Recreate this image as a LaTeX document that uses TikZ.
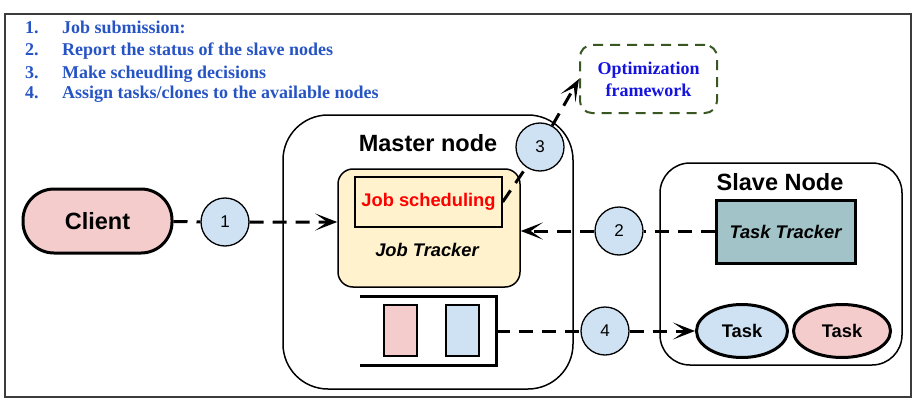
\documentclass[tikz,border=0pt]{standalone}
\usepackage{fontspec}
\setmainfont{Liberation Sans}
\newfontfamily\listfont{Liberation Serif}
\usepackage{tikz}
\usetikzlibrary{arrows.meta}
\usetikzlibrary{shapes.geometric}
\definecolor{list-blue}{RGB}{38, 84, 196}
\definecolor{opt-blue}{RGB}{20, 20, 222}
\definecolor{opt-green}{RGB}{56, 87, 35}
\definecolor{client-pink}{RGB}{244, 204, 204}
\definecolor{label-blue}{RGB}{207, 226, 243}
\definecolor{tracker-yellow}{RGB}{255, 242, 204}
\definecolor{tracker-teal}{RGB}{162, 196, 201}
\definecolor{frame-gray}{RGB}{60, 60, 60}

\tikzset{
  bigtitle/.style={font=\fontsize{23.5}{28}\selectfont\bfseries},
  midtext/.style={font=\fontsize{18.3}{22}\selectfont\bfseries},
  listtext/.style={anchor=base west, text=list-blue, font=\fontsize{18}{21}\selectfont\listfont\bfseries, inner sep=0pt},
  holder/.style={draw, line width=1.5pt, inner sep=0pt},
  numlabel/.style={circle, draw, line width=1.3pt, fill=label-blue, minimum size=48pt, inner sep=0pt, font=\fontsize{17}{20}\selectfont},
  flow/.style={line width=3pt, dash pattern=on 14pt off 9pt, -{Stealth[length=22pt,width=17pt,inset=12pt]}},
  slot/.style={draw, line width=1.2pt, minimum width=33pt, minimum height=51pt, inner sep=0pt}
}

\begin{document}
\begin{tikzpicture}[x=1pt,y=-1pt]
   \useasboundingbox (0,0) rectangle (918,404);
   \draw[frame-gray, line width=1.5pt] (5,14) rectangle (911,397);

   % list of steps
   \node[listtext] (num1) at (25,34) {1.};
   \node[listtext] (item1) at (62,34) {Job submission:};
   \node[listtext] (num2) at (25,56) {2.};
   \node[listtext] (item2) at (62,56) {Report the status of the slave nodes};
   \node[listtext] (num3) at (25,78) {3.};
   \node[listtext] (item3) at (62,78) {Make scheudling decisions};
   \node[listtext] (num4) at (25,99) {4.};
   \node[listtext] (item4) at (62,99) {Assign tasks/clones to the available nodes};

   % containers
   \node[holder, rounded corners=45pt, minimum width=290pt, minimum height=274pt] (master) at (428,252) {};
   \node[holder, rounded corners=30pt, minimum width=242pt, minimum height=202pt] (slave) at (781,264) {};
   \node[bigtitle] (mastertitle) at (428,143) {Master node};
   \node[bigtitle] (slavetitle) at (780,182) {Slave Node};

   % client and optimization framework
   \node[draw, line width=3pt, fill=client-pink, rounded corners=31pt, minimum width=149pt, minimum height=64pt, inner sep=0pt, bigtitle] (client) at (97.5,221) {Client};
   \node[draw=opt-green, line width=2pt, dash pattern=on 10pt off 7pt, rounded corners=12pt, minimum width=137pt, minimum height=68pt, align=center, text=opt-blue, font=\fontsize{18}{22}\selectfont\listfont\bfseries] (opt) at (648.5,79) {Optimization\\framework};

   % job tracker
   \node[holder, fill=tracker-yellow, rounded corners=15pt, minimum width=182pt, minimum height=118pt] (jt) at (429,228) {};
   \node[draw, line width=1.3pt, minimum width=147pt, minimum height=50pt, inner sep=0pt, midtext, text=red] (js) at (428.5,202) {Job scheduling};
   \node[midtext, font=\fontsize{18.3}{22}\selectfont\bfseries\itshape] (jtlabel) at (427,250) {Job Tracker};

   % queue
   \draw[line width=3pt] (360,296) -- (496,296) -- (496,365) -- (360,365);
   \coordinate (queue) at (496,331);
   \node[slot, fill=client-pink] (slot1) at (400.5,330.5) {};
   \node[slot, fill=label-blue] (slot2) at (462.5,330.5) {};

   % task tracker and tasks
   \node[draw, line width=3pt, fill=tracker-teal, minimum width=139pt, minimum height=63pt, inner sep=0pt, midtext, font=\fontsize{18.3}{22}\selectfont\bfseries\itshape] (tt) at (785.5,231.5) {Task Tracker};
   \node[ellipse, draw, line width=3pt, fill=label-blue, minimum width=91pt, minimum height=53pt, inner sep=0pt, midtext] (task1) at (742,331) {Task};
   \node[ellipse, draw, line width=3pt, fill=client-pink, minimum width=97pt, minimum height=53pt, inner sep=0pt, midtext] (task2) at (842,331) {Task};

   % step labels
   \node[numlabel] (c1) at (225,222) {1};
   \node[numlabel] (c2) at (619,231) {2};
   \node[numlabel] (c3) at (540,147) {3};
   \node[numlabel] (c4) at (605,331) {4};

   % connectors
   \draw[flow] (client) -- (c1) -- (c1 -| jt.west);
   \draw[flow] (tt.west |- c2) -- (c2) -- (c2 -| jt.east);
   \draw[flow] (js.east) -- (c3) -- (opt.west);
   \draw[flow] (queue) -- (c4) -- (task1);
\end{tikzpicture}
\end{document}
